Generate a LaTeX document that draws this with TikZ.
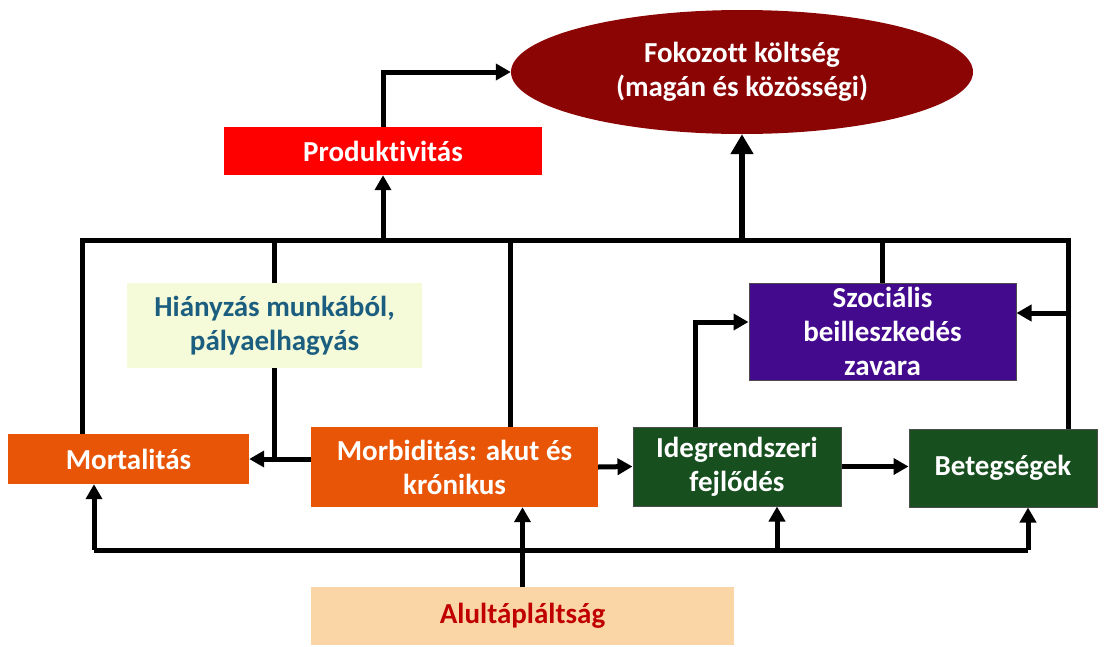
\documentclass[tikz,border=0pt]{standalone}
\usepackage{fontspec}
\setmainfont{Carlito}[Ligatures={NoCommon}]
\usetikzlibrary{shapes.geometric,arrows.meta}
\definecolor{costred}{HTML}{8C0505}
\definecolor{prodred}{HTML}{FF0000}
\definecolor{absfill}{HTML}{F5FBD8}
\definecolor{abstext}{HTML}{1C5E80}
\definecolor{orangebox}{HTML}{E85506}
\definecolor{greenbox}{HTML}{174F1F}
\definecolor{purplebox}{HTML}{430A8E}
\definecolor{malfill}{HTML}{FAD6A6}
\definecolor{maltext}{HTML}{C00000}
\begin{document}
\begin{tikzpicture}[x=1pt,y=-1pt,
    box/.style={rectangle,inner sep=0pt,align=center,text=white,
        font=\fontsize{29}{34}\selectfont\bfseries},
    line/.style={line width=5pt},
    arr/.style={line width=5pt,-{Triangle[length=15pt,width=16pt]}}]
    \useasboundingbox (0,0) rectangle (1106,646);
    % boxes
    \node[box,ellipse,fill=costred,minimum width=462pt,minimum height=124pt] (cost) at (742,72)
        {Fokozott költség\\(magán és közösségi)};
    \node[box,fill=prodred,minimum width=318pt,minimum height=48pt] (prod) at (383,151) {Produktivitás};
    \node[box,fill=absfill,text=abstext,minimum width=295pt,minimum height=85pt] (absence) at (274.5,325.5)
        {Hiányzás munkából,\\pályaelhagyás};
    \node[box,fill=purplebox,draw=black!70,line width=1pt,minimum width=267pt,minimum height=97pt] (social) at (882.5,331.5)
        {Szociális\\beilleszkedés\\zavara};
    \node[box,fill=orangebox,minimum width=241pt,minimum height=50pt] (mort) at (128.5,459) {Mortalitás};
    \node[box,fill=orangebox,minimum width=287pt,minimum height=80pt] (morb) at (454.5,467)
        {Morbiditás: akut és\\krónikus};
    \node[box,fill=greenbox,draw=black!70,line width=1pt,minimum width=208pt,minimum height=79pt] (neuro) at (737,466.5)
        {Idegrendszeri\\fejlődés};
    \node[box,fill=greenbox,draw=black!70,line width=1pt,minimum width=188pt,minimum height=78pt] (dis) at (1003,468) {Betegségek};
    \node[box,fill=malfill,text=maltext,minimum width=423pt,minimum height=58pt] (malnut) at (522.5,616) {Alultápláltság};
    % upper bus
    \coordinate (busL) at (82,240);
    \coordinate (busR) at (1068,240);
    \coordinate (morbUp) at (510,240);
    \draw[line] (busL |- mort.north) -- (busL) -- (busR) -- (busR |- dis.north);
    \draw[line] (absence.north) -- (absence.north |- busL);
    \draw[line] (morbUp) -- (morbUp |- morb.north);
    \draw[line] (social.north) -- (social.north |- busL);
    \draw[arr] (prod.south |- busL) -- (prod.south);
    \draw[arr] (prod.north) |- (cost.west);
    \draw[arr,line width=6pt,-{Triangle[length=20pt,width=22pt]}] (cost.south |- busL) -- (cost.south);
    \draw[arr] (busR |- 0,313) -- (social.east |- 0,313);
    % middle row
    \draw[line] (absence.south) -- (absence.south |- mort.east);
    \draw[arr] (morb.west |- mort.east) -- (mort.east);
    \draw[arr] (morb.east) -- (neuro.west);
    \draw[arr] (neuro.east) -- (neuro.east -| dis.west);
    \draw[arr] ([xshift=-42pt]neuro.north) |- ([yshift=9.5pt]social.west);
    % lower bus
    \coordinate (lowL) at (94,550);
    \coordinate (lowR) at (1028,550);
    \draw[line] (lowL) -- (lowR);
    \draw[arr] (lowL) -- (lowL |- mort.south);
    \draw[arr] (lowR) -- (lowR |- dis.south);
    \draw[arr] ([xshift=40pt]neuro.south |- lowL) -- ([xshift=40pt]neuro.south);
    \draw[arr] (malnut.north) -- (malnut.north |- morb.south);
\end{tikzpicture}
\end{document}
